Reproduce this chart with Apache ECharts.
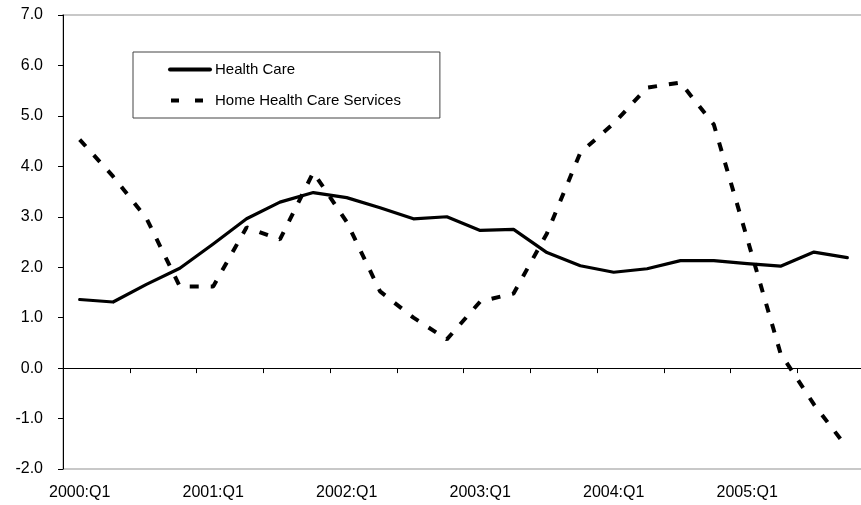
<!DOCTYPE html>
<html>
<head>
<meta charset="utf-8">
<script src="https://cdn.jsdelivr.net/npm/echarts@6/dist/echarts.min.js"></script>
<style>
html,body{margin:0;padding:0;background:#fff;}
#chart{width:861px;height:505px;}
</style>
</head>
<body>
<div id="chart"></div>
<script>
const categories = [
  '2000:Q1','2000:Q2','2000:Q3','2000:Q4',
  '2001:Q1','2001:Q2','2001:Q3','2001:Q4',
  '2002:Q1','2002:Q2','2002:Q3','2002:Q4',
  '2003:Q1','2003:Q2','2003:Q3','2003:Q4',
  '2004:Q1','2004:Q2','2004:Q3','2004:Q4',
  '2005:Q1','2005:Q2','2005:Q3','2005:Q4'
];
const healthCare = [1.36,1.31,1.66,1.98,2.46,2.96,3.29,3.48,3.38,3.18,2.96,3.00,2.73,2.75,2.29,2.03,1.90,1.97,2.13,2.13,2.07,2.02,2.30,2.19];
const homeHealthCare = [4.53,3.80,2.97,1.62,1.62,2.79,2.55,3.88,2.90,1.52,1.00,0.57,1.32,1.48,2.67,4.27,4.85,5.56,5.66,4.83,2.57,0.29,-0.72,-1.58];
const yTicks = {min: -2, max: 7, interval: 1};

const FONT = 'Liberation Sans, Arial, sans-serif';
const chart = echarts.init(document.getElementById('chart'), null, {renderer: 'canvas'});
chart.setOption({
  animation: false,
  backgroundColor: '#ffffff',
  grid: {
    left: 63, top: 15, width: 801, height: 454,
    containLabel: false, outerBoundsMode: 'none',
    show: true, borderColor: '#c8c8c8', borderWidth: 2, backgroundColor: 'transparent'
  },
  legend: {
    orient: 'vertical',
    left: 133, top: 52,
    padding: [10, 39, 10, 35],
    itemWidth: 40, itemHeight: 14, itemGap: 16,
    borderColor: '#444444', borderWidth: 1, backgroundColor: '#ffffff',
    itemStyle: {opacity: 0},
    textStyle: {fontFamily: FONT, fontSize: 15, color: '#000'},
    data: [
      {name: 'Health Care', lineStyle: {width: 4}},
      {name: 'Home Health Care Services', lineStyle: {type: [8, 16], dashOffset: -1, width: 4}}
    ]
  },
  xAxis: [
    {
      type: 'category', data: categories, boundaryGap: true,
      axisLine: {onZero: true, lineStyle: {color: '#000', width: 1}},
      axisTick: {show: true, length: 5, lineStyle: {color: '#000'}},
      axisLabel: {show: false},
      splitLine: {show: false}
    },
    {
      type: 'category', data: categories, boundaryGap: true, position: 'bottom',
      axisLine: {show: false, onZero: false},
      axisTick: {show: false},
      axisLabel: {show: true, interval: 3, margin: 16, fontFamily: FONT, fontSize: 16, color: '#000'},
      splitLine: {show: false}
    }
  ],
  yAxis: {
    type: 'value', min: yTicks.min, max: yTicks.max, interval: yTicks.interval,
    axisLine: {show: true, lineStyle: {color: '#000', width: 1}},
    axisTick: {show: true, length: 5, lineStyle: {color: '#000'}},
    axisLabel: {margin: 20, fontFamily: FONT, fontSize: 16, color: '#000',
      formatter: v => v.toFixed(1)},
    splitLine: {show: false}
  },
  series: [
    {
      name: 'Health Care', type: 'line', data: healthCare, xAxisIndex: 0,
      symbol: 'none', smooth: false,
      lineStyle: {color: '#000', width: 3.2, cap: 'round', join: 'round'},
      itemStyle: {color: '#000'}
    },
    {
      name: 'Home Health Care Services', type: 'line', data: homeHealthCare, xAxisIndex: 0,
      symbol: 'none', smooth: false,
      lineStyle: {color: '#000', width: 4, type: [9, 12], cap: 'butt'},
      itemStyle: {color: '#000'}
    }
  ]
});
</script>
</body>
</html>
